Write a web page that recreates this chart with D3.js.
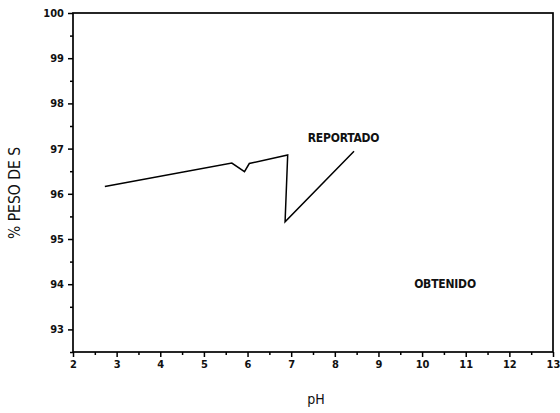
<!DOCTYPE html>
<html>
<head>
<meta charset="utf-8">
<script src="https://cdn.jsdelivr.net/npm/d3@7"></script>
<style>
  html, body { margin: 0; padding: 0; background: #fff; }
  svg text { font-family: "DejaVu Sans Condensed", "DejaVu Sans", sans-serif; fill: #111; }
</style>
</head>
<body>
<svg id="chart" width="560" height="413"></svg>
<script>
// Sulfur weight percentage versus pH (reported curve)
const phValues = [2.73, 5.64, 5.93, 6.04, 6.92, 6.86, 8.44];
const pesoValues = [96.16, 96.68, 96.49, 96.67, 96.86, 95.38, 96.94];
const xTicks = [2, 3, 4, 5, 6, 7, 8, 9, 10, 11, 12, 13];
const yTicks = [93, 94, 95, 96, 97, 98, 99, 100];
const seriesLabels = ["REPORTADO", "OBTENIDO"];

const svg = d3.select("#chart");
const plotLeft = 73, plotRight = 553, plotTop = 13, plotBottom = 352;

const x = d3.scaleLinear().domain([2, 13]).range([plotLeft, plotRight]);
const y = d3.scaleLinear().domain([92.5, 100]).range([plotBottom, plotTop]);

// Frame
svg.append("rect")
  .attr("x", plotLeft).attr("y", plotTop)
  .attr("width", plotRight - plotLeft).attr("height", plotBottom - plotTop)
  .attr("fill", "none").attr("stroke", "#000").attr("stroke-width", 1.7);

// Minor ticks (half units)
const xMinor = d3.range(2.5, 13, 1);
const yMinor = d3.range(92.5, 100, 1).concat([99.5]).filter((v, i, a) => a.indexOf(v) === i);

const xAxis = d3.axisBottom(x).tickValues(xTicks).tickSize(5).tickPadding(3).tickFormat(d3.format("d"));
const yAxis = d3.axisLeft(y).tickValues(yTicks).tickSize(5).tickPadding(4).tickFormat(d3.format("d"));

svg.append("g").attr("transform", `translate(0,${plotBottom})`).call(xAxis);
svg.append("g").attr("transform", `translate(${plotLeft},0)`).call(yAxis);
svg.append("g").attr("transform", `translate(0,${plotBottom})`)
  .call(d3.axisBottom(x).tickValues(xMinor).tickSize(3).tickFormat(""));
svg.append("g").attr("transform", `translate(${plotLeft},0)`)
  .call(d3.axisLeft(y).tickValues(yMinor).tickSize(3).tickFormat(""));

svg.selectAll(".domain").remove();
svg.selectAll(".tick line").attr("stroke", "#000").attr("stroke-width", 1.5);
svg.selectAll(".tick text")
  .attr("font-size", 11).attr("font-weight", "bold").attr("fill", "#111");

// Axis titles
svg.append("text")
  .attr("x", 316).attr("y", 404)
  .attr("text-anchor", "middle").attr("font-size", 14)
  .text("pH");
svg.append("text")
  .attr("transform", "translate(20,193) rotate(-90)")
  .attr("text-anchor", "middle").attr("font-size", 15.5)
  .text("% PESO DE S");

// Reported curve
const line = d3.line().x((d, i) => x(phValues[i])).y(d => y(d));
svg.append("path")
  .datum(pesoValues)
  .attr("d", line)
  .attr("fill", "none").attr("stroke", "#000").attr("stroke-width", 1.5)
  .attr("stroke-linejoin", "miter");

// Series labels
svg.append("text")
  .attr("x", 343.5).attr("y", 142)
  .attr("text-anchor", "middle").attr("font-size", 12)
  .attr("font-weight", "bold")
  .attr("letter-spacing", -0.2)
  .text(seriesLabels[0]);
svg.append("text")
  .attr("x", 445).attr("y", 287.5)
  .attr("text-anchor", "middle").attr("font-size", 12)
  .attr("font-weight", "bold")
  .attr("letter-spacing", -0.2)
  .text(seriesLabels[1]);
</script>
</body>
</html>
